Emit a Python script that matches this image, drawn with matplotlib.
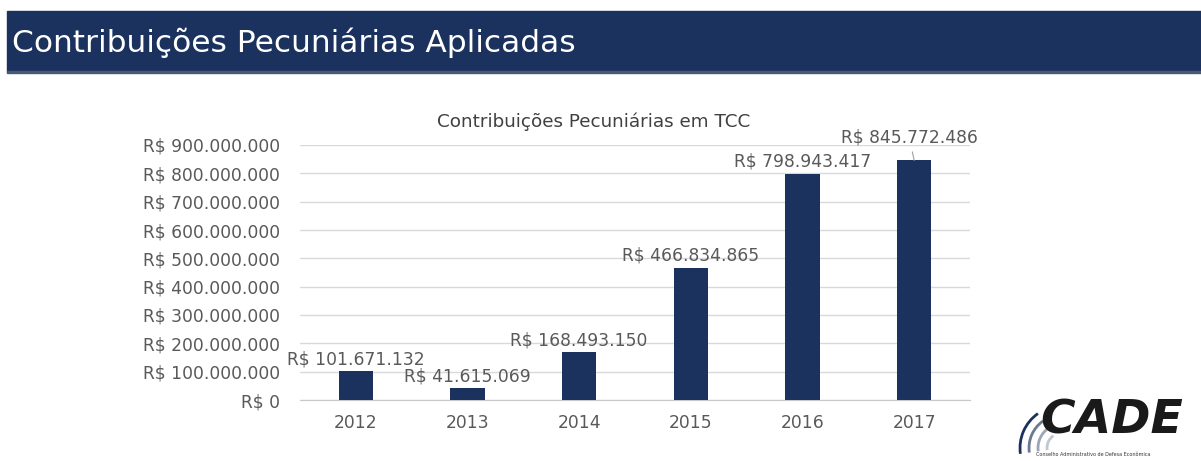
import numpy as np
import matplotlib
matplotlib.use("Agg")
import matplotlib.pyplot as plt
from matplotlib.patches import Rectangle, Arc

plt.rcParams['font.family'] = ['DejaVu Sans']

# dados
anos = ['2012', '2013', '2014', '2015', '2016', '2017']
valores = [101671132, 41615069, 168493150, 466834865, 798943417, 845772486]
rotulos = ['R$ 101.671.132', 'R$ 41.615.069', 'R$ 168.493.150',
           'R$ 466.834.865', 'R$ 798.943.417', 'R$ 845.772.486']
ticks_y = [0, 100e6, 200e6, 300e6, 400e6, 500e6, 600e6, 700e6, 800e6, 900e6]
ticks_y_txt = ['R$ 0', 'R$ 100.000.000', 'R$ 200.000.000', 'R$ 300.000.000',
               'R$ 400.000.000', 'R$ 500.000.000', 'R$ 600.000.000',
               'R$ 700.000.000', 'R$ 800.000.000', 'R$ 900.000.000']

W, H = 1201, 461
azul = '#1b325e'
cinza = '#595959'
fig = plt.figure(figsize=(W / 100, H / 100), dpi=100)
fig.patch.set_facecolor('white')

# faixa do titulo
fig.patches.append(Rectangle((7 / W, 1 - 72 / H), 1 - 7 / W, 61 / H,
                             transform=fig.transFigure, color=azul, zorder=0))
fig.patches.append(Rectangle((7 / W, 1 - 73 / H), 1 - 7 / W, 2 / H,
                             transform=fig.transFigure, color='#4a5a72', zorder=0))
fig.text(12 / W, 1 - 43 / H, 'Contribuições Pecuniárias Aplicadas',
         color='white', fontsize=22.5, va='center', ha='left')

# grafico
ax = fig.add_axes([300 / W, 1 - 400 / H, 670 / W, 255 / H])
x = np.arange(len(anos))
ax.bar(x, valores, width=0.31, color=azul, zorder=3)
ax.set_xlim(-0.5, len(anos) - 0.5)
ax.set_ylim(0, 900e6)
ax.set_yticks(ticks_y)
ax.set_yticklabels(ticks_y_txt)
ax.set_xticks(x)
ax.set_xticklabels(anos)
ax.tick_params(axis='y', length=0, pad=14.4, labelsize=12.3, labelcolor=cinza)
ax.tick_params(axis='x', length=0, pad=10, labelsize=12.3, labelcolor=cinza)
ax.grid(axis='y', color='#d9d9d9', linewidth=1, zorder=0)
for s in ['top', 'right', 'left']:
    ax.spines[s].set_visible(False)
ax.spines['bottom'].set_color('#c8c8c8')

for i, (v, t) in enumerate(zip(valores, rotulos)):
    if i == len(valores) - 1:
        ax.annotate(t, xy=(x[i], v), xytext=(-5, 18), textcoords='offset pixels',
                    ha='center', va='baseline', fontsize=12.3, color=cinza,
                    arrowprops=dict(arrowstyle='-', color='#a0a0a0', lw=0.8,
                                    shrinkA=2, shrinkB=0),
                    annotation_clip=False)
    else:
        ax.annotate(t, xy=(x[i], v), xytext=(0, 7), textcoords='offset pixels',
                    ha='center', va='baseline', fontsize=12.3, color=cinza,
                    annotation_clip=False)

fig.text(594 / W, 1 - 122 / H, 'Contribuições Pecuniárias em TCC',
         fontsize=13.2, color='#404040', ha='center', va='center')

# logo
fig.text(1040 / W, 1 - 421 / H, 'CADE', fontsize=34, fontweight='bold',
         fontstyle='italic', color='#1a1a1a', ha='left', va='center')
fig.text(1036 / W, 1 - 454 / H, 'Conselho Administrativo de Defesa Econômica',
         fontsize=3.5, color='#333333', ha='left', va='center')
for r, c in [(84, '#1b325e'), (66, '#6a7a90'), (48, '#9aa6b6'), (30, '#c0c8d2')]:
    fig.patches.append(Arc((1062 / W, 1 - 448 / H), r / W, r / H, angle=0,
                           theta1=105, theta2=200, transform=fig.transFigure,
                           color=c, lw=2))

fig.savefig('out.png', dpi=100)
